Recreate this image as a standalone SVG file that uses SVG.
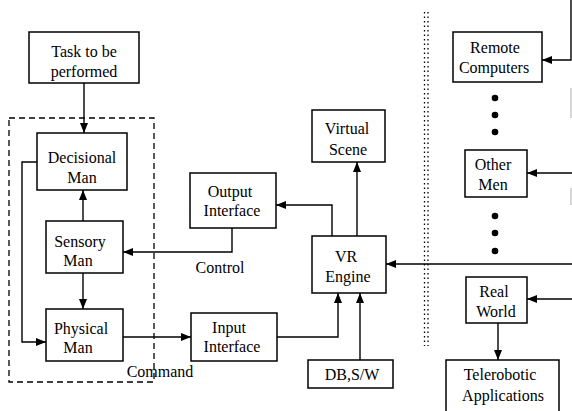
<svg xmlns="http://www.w3.org/2000/svg" width="572" height="411" viewBox="0 0 572 411">
<style>
.box{fill:#fff;stroke:#000;stroke-width:1.5}
.t{font-family:"Liberation Serif","Times New Roman",serif;font-size:16px;fill:#000;text-anchor:middle}
.c{fill:none;stroke:#000;stroke-width:1.4}
.dash{fill:none;stroke:#000;stroke-width:1.3;stroke-dasharray:6 4}
.dot{fill:none;stroke:#000;stroke-width:1.3;stroke-dasharray:1.5 3}
</style>
<defs>
<marker id="ah" viewBox="0 0 10 8" refX="10" refY="4" markerWidth="10" markerHeight="8" markerUnits="userSpaceOnUse" orient="auto">
<path d="M0,0 L10,4 L0,8 Z" fill="#000"/>
</marker>
</defs>
<rect width="572" height="411" fill="#fff"/>
<g id="separators">
<rect class="dash" x="9" y="118" width="145" height="264"/>
<line class="dot" x1="424.5" y1="12" x2="424.5" y2="346"/>
<line class="dot" x1="428" y1="12" x2="428" y2="346"/>
</g>
<g id="connectors">
<path class="c" d="M84,83 V133" marker-end="url(#ah)"/>
<path class="c" d="M37,162 H22 V342 H46" marker-end="url(#ah)"/>
<path class="c" d="M83,221 V190" marker-end="url(#ah)"/>
<path class="c" d="M83,273 V309" marker-end="url(#ah)"/>
<path class="c" d="M123,337 H191" marker-end="url(#ah)"/>
<path class="c" d="M232,228 V252 H123" marker-end="url(#ah)"/>
<path class="c" d="M332,236 V205 H276" marker-end="url(#ah)"/>
<path class="c" d="M357,236 V162" marker-end="url(#ah)"/>
<path class="c" d="M277,337 H338 V293" marker-end="url(#ah)"/>
<path class="c" d="M360,360 V293" marker-end="url(#ah)"/>
<path class="c" d="M571,0 V60 H542" marker-end="url(#ah)"/>
<path class="c" d="M572,173 H527" marker-end="url(#ah)"/>
<path class="c" d="M572,264 H386" marker-end="url(#ah)"/>
<path class="c" d="M572,299 H527" marker-end="url(#ah)"/>
<path class="c" d="M498,323 V360" marker-end="url(#ah)"/>
<path d="M571,88 V118 M571,188 V205" stroke="#bbb" stroke-width="1.2"/>
</g>
<g id="task"><rect class="box" x="29" y="32" width="110" height="51"/><text class="t" x="84" y="57">Task to be</text><text class="t" x="84" y="77">performed</text></g>
<g id="decisional"><rect class="box" x="37" y="133" width="90" height="57"/><text class="t" x="82" y="163">Decisional</text><text class="t" x="82" y="183">Man</text></g>
<g id="sensory"><rect class="box" x="46" y="221" width="77" height="52"/><text class="t" x="80" y="247">Sensory</text><text class="t" x="78" y="266">Man</text></g>
<g id="physical"><rect class="box" x="46" y="309" width="77" height="52"/><text class="t" x="81" y="334">Physical</text><text class="t" x="78" y="353">Man</text></g>
<g id="input"><rect class="box" x="191" y="313" width="86" height="48"/><text class="t" x="229" y="333">Input</text><text class="t" x="232" y="352">Interface</text></g>
<g id="output"><rect class="box" x="190" y="173" width="86" height="55"/><text class="t" x="230" y="197">Output</text><text class="t" x="232" y="216">Interface</text></g>
<g id="virtual"><rect class="box" x="312" y="110" width="73" height="52"/><text class="t" x="347" y="134">Virtual</text><text class="t" x="348" y="155">Scene</text></g>
<g id="vr"><rect class="box" x="312" y="236" width="74" height="57"/><text class="t" x="346" y="262">VR</text><text class="t" x="348" y="282">Engine</text></g>
<g id="db"><rect class="box" x="308" y="360" width="85" height="28"/><text class="t" x="352" y="380">DB,S/W</text></g>
<g id="remote"><rect class="box" x="453" y="32" width="89" height="50"/><text class="t" x="495" y="53">Remote</text><text class="t" x="494" y="73">Computers</text></g>
<g id="other"><rect class="box" x="465" y="150" width="62" height="47"/><text class="t" x="493" y="170">Other</text><text class="t" x="493" y="190">Men</text></g>
<g id="real"><rect class="box" x="466" y="277" width="61" height="46"/><text class="t" x="494" y="297">Real</text><text class="t" x="496" y="317">World</text></g>
<g id="telerobotic"><rect class="box" x="446" y="360" width="113" height="60"/><text class="t" x="500" y="380">Telerobotic</text><text class="t" x="503" y="401">Applications</text></g>
<g id="dots" fill="#000">
<circle cx="495" cy="98" r="3.3"/><circle cx="495" cy="115" r="3.3"/><circle cx="495" cy="132" r="3.3"/>
<circle cx="495" cy="216" r="3.3"/><circle cx="495" cy="233" r="3.3"/><circle cx="495" cy="251" r="3.3"/>
</g>
<g id="labels">
<text class="t" x="220" y="273">Control</text>
<text class="t" x="160" y="377">Command</text>
</g>
</svg>
